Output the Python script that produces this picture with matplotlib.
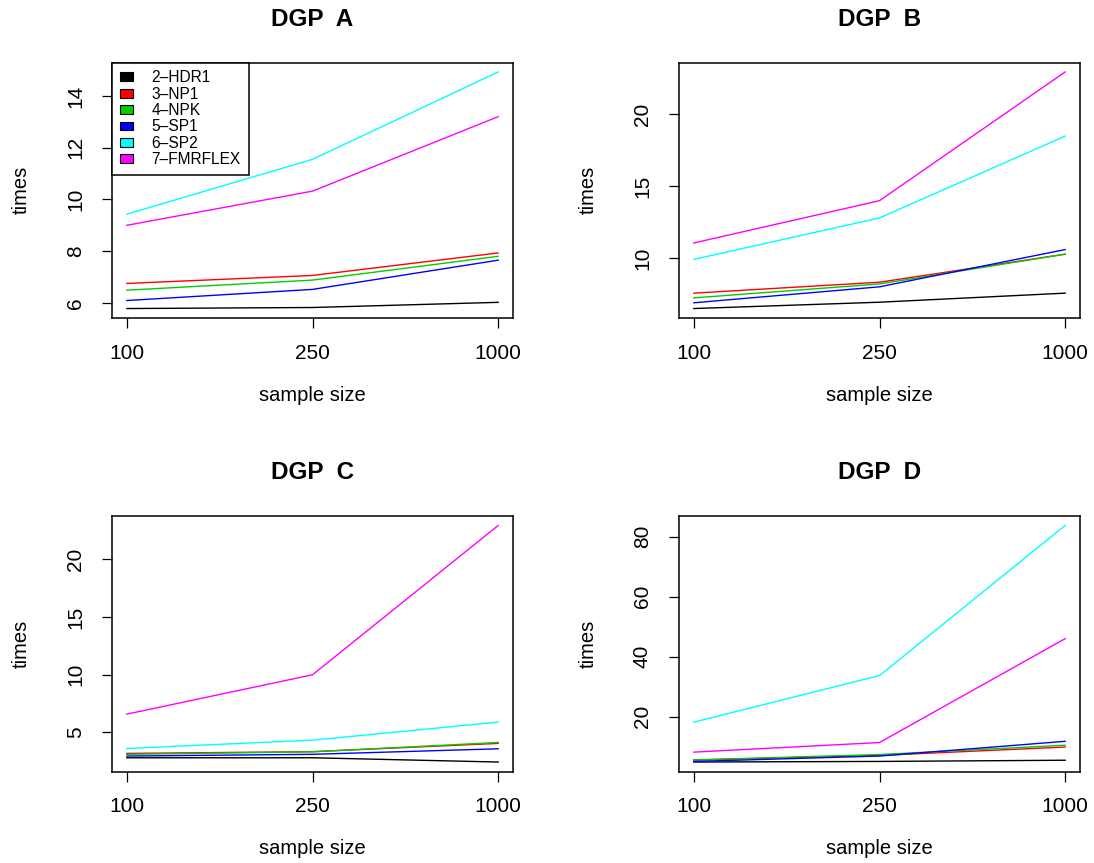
import matplotlib
matplotlib.use("Agg")
import matplotlib.pyplot as plt
from matplotlib.patches import Patch

plt.rcParams['font.family'] = ['Liberation Sans', 'DejaVu Sans']

sample_sizes = ["100", "250", "1000"]
methods = ["2–HDR1", "3–NP1", "4–NPK", "5–SP1", "6–SP2", "7–FMRFLEX"]
colors = ["#000000", "#FF0000", "#00CD00", "#0000FF", "#00FFFF", "#FF00FF"]

# times per DGP, one list per method (rows follow `methods`)
dgp_a = [
    [5.78, 5.82, 6.02],
    [6.75, 7.06, 7.93],
    [6.49, 6.88, 7.80],
    [6.09, 6.52, 7.65],
    [9.43, 11.55, 14.93],
    [9.00, 10.32, 13.20],
]
dgp_b = [
    [6.48, 6.92, 7.55],
    [7.55, 8.31, 10.26],
    [7.22, 8.19, 10.26],
    [6.88, 7.99, 10.58],
    [9.90, 12.78, 18.47],
    [11.04, 13.98, 22.93],
]
dgp_c = [
    [2.77, 2.77, 2.40],
    [3.15, 3.30, 4.02],
    [3.07, 3.29, 4.10],
    [2.92, 3.07, 3.55],
    [3.58, 4.30, 5.87],
    [6.56, 9.98, 22.95],
]
dgp_d = [
    [4.9, 5.1, 5.5],
    [5.6, 7.1, 9.9],
    [5.6, 7.4, 10.5],
    [5.1, 6.9, 11.8],
    [18.2, 33.7, 83.7],
    [8.2, 11.4, 46.0],
]
titles = ["DGP  A", "DGP  B", "DGP  C", "DGP  D"]
yticks = [[6, 8, 10, 12, 14], [10, 15, 20], [5, 10, 15, 20], [20, 40, 60, 80]]
datasets = [dgp_a, dgp_b, dgp_c, dgp_d]

W, H = 1094, 863
fig = plt.figure(figsize=(W / 100, H / 100), dpi=100)

# axes boxes in pixels: (left, top, right, bottom)
boxes = [(112, 62.5, 513, 318), (679, 62.5, 1080, 318),
         (112, 516, 513, 771.5), (679, 516, 1080, 771.5)]

x = [1, 2, 3]
for i, (data, title, yt, box) in enumerate(zip(datasets, titles, yticks, boxes)):
    l, t, r, b = box
    ax = fig.add_axes([l / W, 1 - b / H, (r - l) / W, (b - t) / H])
    for vals, c in zip(data, colors):
        ax.plot(x, vals, color=c, lw=1.0, solid_joinstyle='miter')
    ax.margins(x=0.04, y=0.04)
    ax.set_xticks(x)
    ax.set_xticklabels(sample_sizes)
    ax.set_yticks(yt)
    ax.set_yticklabels([str(v) for v in yt])
    for sp in ax.spines.values():
        sp.set_linewidth(1.1)
        sp.set_color('black')
    ax.tick_params(axis='both', direction='out', length=7.5, width=0.9,
                   labelsize=15, colors='black')
    ax.tick_params(axis='x', pad=11)
    ax.tick_params(axis='y', pad=12)
    for lab in ax.get_yticklabels():
        lab.set_rotation(90)
        lab.set_va('center')
        lab.set_ha('right')
    hpx = b - t
    wpx = r - l
    ax.set_xlabel("sample size", fontsize=14.5)
    ax.xaxis.set_label_coords(0.5, -(395 - 318) / hpx)
    ax.xaxis.label.set_va('center')
    ax.set_ylabel("times", fontsize=14.5)
    ax.yaxis.set_label_coords(-91 / wpx, 0.5)
    ax.yaxis.label.set_va('center')
    ax.text(0.5, 1 + 43.5 / hpx, title, transform=ax.transAxes,
            ha='center', va='center', fontsize=17.5, fontweight='bold')
    if i == 0:
        handles = [Patch(facecolor=c, edgecolor='black', linewidth=0.8) for c in colors]
        leg = ax.legend(handles, methods, loc='upper left', bbox_to_anchor=(0, 1),
                        borderaxespad=0, fontsize=11.2, frameon=True, fancybox=False,
                        handlelength=0.85, handleheight=0.5, handletextpad=1.2,
                        labelspacing=0.09, borderpad=0.5)
        fr = leg.get_frame()
        fr.set_edgecolor('black')
        fr.set_linewidth(1.1)
        fr.set_alpha(1)

fig.savefig("out.png", dpi=100, facecolor='white')
